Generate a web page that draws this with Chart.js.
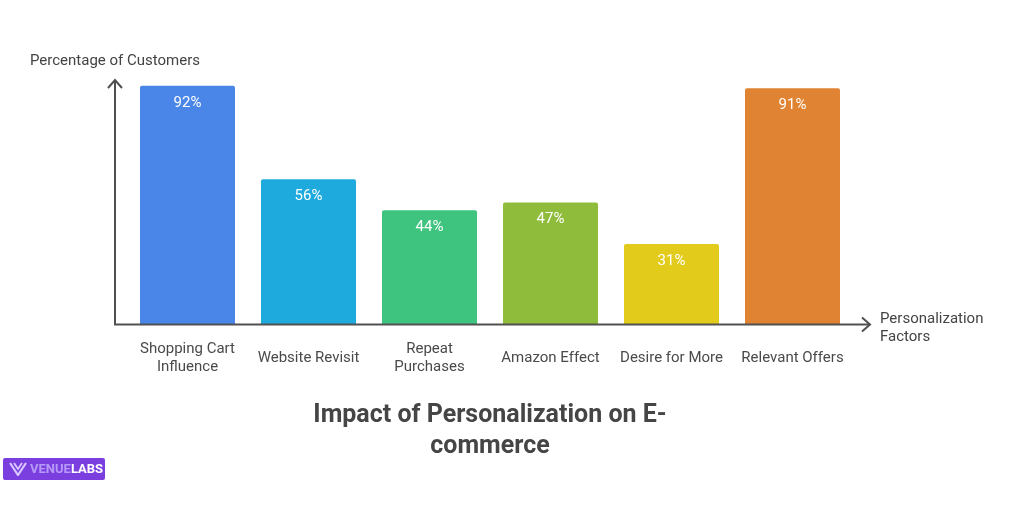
<!DOCTYPE html>
<html>
<head>
<meta charset="utf-8">
<script src="https://cdn.jsdelivr.net/npm/chart.js@4"></script>
<style>
  html, body { margin: 0; padding: 0; background: #fff; }
  #wrap { position: relative; width: 1024px; height: 509px; font-family: Roboto, sans-serif; }
  #chart { position: absolute; left: 0; top: 0; }
  .lbl { position: absolute; color: #444; font-size: 15px; line-height: 18px; }
  #title { position: absolute; left: 290px; width: 400px; top: 398px; text-align: center;
           font-weight: bold; font-size: 25px; line-height: 31px; color: #454545; }
  #logo { position: absolute; left: 3px; top: 458px; width: 102px; height: 22px; background: #7b3fe0;
          border-radius: 2px; color: #fff; font-weight: bold; font-size: 13px; line-height: 22px; }
  #logo span.v { color: #b79af7; }
</style>
</head>
<body>
<div id="wrap">
  <canvas id="chart" width="1024" height="509"></canvas>
  <div class="lbl" style="left:30px; top:51px;">Percentage of Customers</div>
  <div class="lbl" style="left:880px; top:309px;">Personalization<br>Factors</div>
  <div id="title">Impact of Personalization on E-<br>commerce</div>
  <div id="logo">
    <svg width="18" height="14" viewBox="0 0 18 14" style="position:absolute; left:6px; top:4px;">
      <path d="M1 1 L9 13 L17 1" fill="none" stroke="#d9c8ff" stroke-width="2.2"/>
      <path d="M5 1 L9 7 L13 1" fill="none" stroke="#d9c8ff" stroke-width="1.8"/>
    </svg>
    <span style="position:absolute; left:27px;"><span class="v">VENUE</span>LABS</span>
  </div>
</div>
<script>
// chart values
const categories = [
  ['Shopping Cart', 'Influence'],
  'Website Revisit',
  ['Repeat', 'Purchases'],
  'Amazon Effect',
  'Desire for More',
  'Relevant Offers'
];
const percentages = [92, 56, 44, 47, 31, 91];
const barColors = ['#4a86e8', '#1eaadc', '#3ec47f', '#8fbc3b', '#e2cb1b', '#e08333'];

//draws the arrowed axes and the value labels inside the bars
const axesAndLabels = {
  id: 'axesAndLabels',
  afterDatasetsDraw(chart) {
    const ctx = chart.ctx;
    const a = chart.chartArea;
    const x0 = a.left - 12;
    const y0 = a.bottom;
    const xEnd = a.right + 17;
    const yEnd = a.top + 15;

    ctx.save();
    ctx.strokeStyle = '#505050';
    ctx.lineWidth = 2;
    ctx.beginPath();
    ctx.moveTo(x0, yEnd);
    ctx.lineTo(x0, y0);
    ctx.lineTo(xEnd, y0);
    ctx.stroke();
    // arrow heads
    ctx.beginPath();
    ctx.moveTo(x0 - 7, yEnd + 8);
    ctx.lineTo(x0, yEnd);
    ctx.lineTo(x0 + 7, yEnd + 8);
    ctx.moveTo(xEnd - 8, y0 - 7);
    ctx.lineTo(xEnd, y0);
    ctx.lineTo(xEnd - 8, y0 + 7);
    ctx.stroke();

    ctx.fillStyle = '#ffffff';
    ctx.font = '15px Roboto, sans-serif';
    ctx.textAlign = 'center';
    ctx.textBaseline = 'middle';
    chart.getDatasetMeta(0).data.forEach((bar, i) => {
      ctx.fillText(percentages[i] + '%', bar.x, bar.y + 17);
    });
    ctx.restore();
  }
};

new Chart(document.getElementById('chart'), {
  type: 'bar',
  data: {
    labels: categories,
    datasets: [{
      data: percentages,
      backgroundColor: barColors,
      borderRadius: 2,
      borderSkipped: 'bottom',
      barPercentage: 0.785,
      categoryPercentage: 1
    }]
  },
  options: {
    responsive: false,
    animation: false,
    layout: {
      padding: { left: 127, right: 171, top: 65, bottom: 108 }
    },
    plugins: {
      legend: { display: false },
      tooltip: { enabled: false }
    },
    scales: {
      x: {
        grid: { display: false },
        border: { display: false },
        ticks: {
          color: '#4a4a4a',
          font: { family: 'Roboto', size: 15, lineHeight: 1.15 },
          padding: 17,
          crossAlign: 'center',
          maxRotation: 0,
          autoSkip: false
        }
      },
      y: {
        display: false,
        min: 0,
        max: 100
      }
    }
  },
  plugins: [axesAndLabels]
});
</script>
</body>
</html>
